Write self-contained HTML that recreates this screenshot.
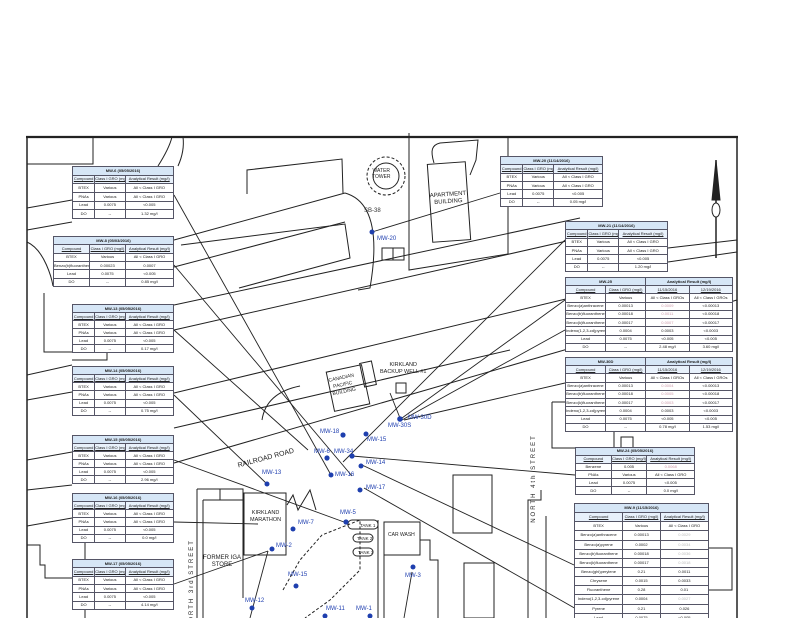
<!DOCTYPE html>
<html><head><meta charset="utf-8"><style>
html,body{margin:0;padding:0;background:#fff;}
#w{position:relative;width:800px;height:618px;overflow:hidden;background:#fff;font-family:"Liberation Sans",sans-serif;}
svg{position:absolute;left:0;top:0;}
table.t{position:absolute;border-collapse:collapse;background:#fff;font-size:4px;line-height:4px;border:1.2px solid #223;table-layout:fixed;}
table.t td{border:0.6px solid #556;text-align:center;padding:0;color:#222;white-space:nowrap;overflow:hidden;}
table.t tr.ti td{background:#d6e6f6;font-weight:bold;}
table.t tr.h td{background:#e8f1fb;text-decoration:underline;}
.lb{position:absolute;font-size:6px;color:#2140b0;white-space:nowrap;}
.bl{position:absolute;font-size:6px;color:#222;white-space:nowrap;text-align:center;line-height:7px;}
</style></head><body><div id="w">
<svg width="800" height="618" viewBox="0 0 800 618">
<g fill="none" stroke="#222" stroke-width="1">
<!-- border -->
<line x1="26" y1="137" x2="738" y2="137" stroke-width="2.2"/>
<line x1="27" y1="137" x2="27" y2="618" stroke-width="1.5"/>
<line x1="737" y1="137" x2="737" y2="618" stroke-width="1.5"/>
<!-- top-left block -->
<polyline points="27,164 93,164 93,137"/>
<path d="M158,166 C165,155 170,145 172,137"/><path d="M178,166 C183,155 184,145 183,137"/>
<!-- road lines -->
<line x1="27" y1="208" x2="72" y2="200"/>
<line x1="27" y1="230" x2="72" y2="222"/>
<line x1="174" y1="240" x2="345" y2="193"/>
<line x1="174" y1="267" x2="345" y2="222"/>
<polyline points="247,194 247,170 342,159 343,193"/>
<polyline points="181,245 345,224 350,258 239,288"/>
<path d="M345,193 C370,200 380,230 370,288 L358,290"/>
<line x1="174" y1="305" x2="580" y2="218"/>
<line x1="174" y1="330" x2="580" y2="238"/>
<line x1="27" y1="375" x2="72" y2="365"/>
<line x1="27" y1="400" x2="72" y2="392"/>
<line x1="174" y1="393" x2="570" y2="298"/>
<line x1="174" y1="428" x2="510" y2="350"/>
<line x1="27" y1="460" x2="72" y2="452"/>
<line x1="27" y1="490" x2="72" y2="485"/>
<line x1="27" y1="526" x2="72" y2="518"/>
<line x1="174" y1="463" x2="737" y2="300"/>
<line x1="668" y1="248" x2="737" y2="240"/>
<line x1="668" y1="262" x2="737" y2="252"/>
<!-- left side outlines -->
<path d="M27,242 C45,250 52,280 53,286"/>
<polyline points="44,293 44,352 72,352"/>
<polyline points="70,286 70,280 95,278 96,286"/>
<polyline points="107,353 107,360 72,360"/>
<polyline points="27,545 40,545 40,565 45,565 45,578 72,578"/>
<polyline points="85,543 85,560"/><polyline points="85,610 85,618"/>
<!-- apartment / water tower -->
<circle cx="386" cy="176" r="19" stroke-dasharray="3,2"/><circle cx="386" cy="176" r="13"/>
<polyline points="409,133 409,270 508,254 508,137"/>
<rect x="430" y="163" width="38" height="78" transform="rotate(-4 449 202)"/>
<path d="M434,163 C430,150 432,145 440,143 L478,140 L476,160 L470,175"/>
<rect x="382" y="248" width="22" height="12"/><line x1="393" y1="248" x2="393" y2="260"/>
<!-- canadian pacific building -->
<rect x="330" y="368" width="36" height="40" transform="rotate(-12 348 388)"/>
<rect x="362" y="362" width="12" height="24" transform="rotate(-12 368 374)"/>
<rect x="396" y="383" width="10" height="10"/>
<path d="M262,420 C265,400 280,390 300,386"/>
<!-- kirkland area -->
<polyline points="197,489 197,618"/><polyline points="203,500 203,618"/>
<polyline points="197,489 243,489 243,500"/><line x1="220" y1="489" x2="220" y2="500"/>
<polyline points="203,500 243,500 243,598"/>
<rect x="244" y="493" width="42" height="62"/>
<polyline points="287,505 293,495 298,510 310,490 316,510"/>
<path d="M283,590 L300,560 L322,535 L360,520 L360,570 L330,600 L305,618" stroke-dasharray="3,2"/>
<rect x="348" y="520" width="30" height="9" rx="4"/><rect x="353" y="534" width="20" height="8" rx="4"/><rect x="353" y="548" width="20" height="8" rx="4"/>
<line x1="378" y1="520" x2="378" y2="618"/>
<rect x="384" y="522" width="36" height="33"/><polyline points="384,555 384,618"/>
<polyline points="420,540 430,540 430,560 438,560 438,618"/>
<rect x="453" y="475" width="39" height="58"/>
<rect x="464" y="563" width="30" height="55"/>
<polyline points="546,516 546,618"/><polyline points="541,490 541,500 528,500 528,618"/>
<polyline points="709,548 732,548 732,590 709,590"/>
<rect x="621" y="437" width="12" height="20"/>
<polyline points="552,402 552,448 575,448"/>
<polyline points="565,402 552,402"/>
<polyline points="614,432 614,447"/>
<!-- north arrow -->
<line x1="716" y1="160" x2="716" y2="258" stroke-width="1.5"/>
<polygon points="716,160 712,200 720,200" fill="#222"/>
<ellipse cx="716" cy="210" rx="4" ry="7" fill="#fff"/>
</g>
<!-- leader lines -->
<g stroke="#222" stroke-width="0.9" fill="none">
<line x1="174" y1="195" x2="331" y2="475"/>
<line x1="174" y1="265" x2="352" y2="476"/>
<line x1="174" y1="330" x2="308" y2="450"/>
<line x1="174" y1="395" x2="267" y2="484"/>
<line x1="174" y1="460" x2="344" y2="522"/>
<line x1="174" y1="522" x2="258" y2="524"/>
<line x1="174" y1="584" x2="268" y2="551"/>
<line x1="500" y1="193" x2="372" y2="232"/>
<line x1="565" y1="240" x2="343" y2="462"/>
<line x1="565" y1="300" x2="402" y2="418"/>
<line x1="565" y1="330" x2="402" y2="420"/>
<line x1="565" y1="383" x2="404" y2="420"/>
<line x1="575" y1="475" x2="352" y2="456"/>
<line x1="574" y1="565" x2="362" y2="465"/>
<line x1="592" y1="618" x2="364" y2="488"/>
<line x1="400" y1="418" x2="390" y2="393"/>
<line x1="404" y1="618" x2="412" y2="572"/>
<line x1="250" y1="618" x2="268" y2="551"/>
</g>
<!-- wells -->
<g fill="#1e3fae">
<circle cx="372" cy="232" r="2.5"/><circle cx="343" cy="435" r="2.6"/><circle cx="400" cy="419" r="2.8"/><circle cx="366" cy="434" r="2.5"/>
<circle cx="327" cy="458" r="2.6"/><circle cx="352" cy="456" r="2.6"/><circle cx="331" cy="475" r="2.5"/><circle cx="361" cy="466" r="2.5"/>
<circle cx="267" cy="484" r="2.5"/><circle cx="360" cy="490" r="2.5"/><circle cx="346" cy="522" r="2.6"/><circle cx="293" cy="529" r="2.5"/>
<circle cx="272" cy="549" r="2.5"/><circle cx="296" cy="586" r="2.5"/><circle cx="413" cy="567" r="2.5"/><circle cx="252" cy="608" r="2.5"/>
<circle cx="370" cy="616" r="2.5"/><circle cx="325" cy="616" r="2.5"/>
</g>
</svg>
<div class="lb" style="left:364px;top:208px;color:#333">SB-38</div>
<div class="lb" style="left:377px;top:236px">MW-20</div>
<div class="lb" style="left:408px;top:415px">MW-30D</div>
<div class="lb" style="left:388px;top:423px">MW-30S</div>
<div class="lb" style="left:320px;top:429px">MW-18</div>
<div class="lb" style="left:367px;top:437px">MW-15</div>
<div class="lb" style="left:314px;top:449px">MW-6</div>
<div class="lb" style="left:334px;top:449px">MW-34</div>
<div class="lb" style="left:366px;top:460px">MW-14</div>
<div class="lb" style="left:335px;top:472px">MW-16</div>
<div class="lb" style="left:262px;top:470px">MW-13</div>
<div class="lb" style="left:366px;top:485px">MW-17</div>
<div class="lb" style="left:340px;top:510px">MW-5</div>
<div class="lb" style="left:298px;top:520px">MW-7</div>
<div class="lb" style="left:276px;top:543px">MW-2</div>
<div class="lb" style="left:288px;top:572px">MW-15</div>
<div class="lb" style="left:405px;top:573px">MW-3</div>
<div class="lb" style="left:245px;top:598px">MW-12</div>
<div class="lb" style="left:326px;top:606px">MW-11</div>
<div class="lb" style="left:356px;top:606px">MW-1</div>
<div class="bl" style="left:372px;top:168px;font-size:5px;line-height:6px">WATER<br>TOWER</div>
<div class="bl" style="left:430px;top:192px;transform:rotate(-4deg)">APARTMENT<br>BUILDING</div>
<div class="bl" style="left:330px;top:375px;transform:rotate(-12deg);font-size:5px">CANADIAN<br>PACIFIC<br>BUILDING</div>
<div class="bl" style="left:380px;top:362px;font-size:5.5px">KIRKLAND<br>BACKUP WELL #1</div>
<div class="bl" style="left:237px;top:455px;transform:rotate(-15deg);font-size:7px">RAILROAD ROAD</div>
<div class="bl" style="left:250px;top:510px;font-size:5.5px">KIRKLAND<br>MARATHON</div>
<div class="bl" style="left:203px;top:555px;font-size:6px">FORMER IGA<br>STORE</div>
<div class="bl" style="left:360px;top:522px;font-size:4.5px">TANK 1</div>
<div class="bl" style="left:357px;top:535px;font-size:4.5px">TANK 2</div>
<div class="bl" style="left:358px;top:549px;font-size:4.5px">TANK 3</div>
<div class="bl" style="left:388px;top:532px;font-size:5px">CAR WASH</div>
<div class="bl" style="left:148px;top:580px;transform:rotate(-90deg);font-size:6px;letter-spacing:2px">NORTH 3rd STREET</div>
<div class="bl" style="left:490px;top:475px;transform:rotate(-90deg);font-size:6px;letter-spacing:2px">NORTH 4th STREET</div>

<table class="t" style="left:72px;top:166px;width:102px;height:53px"><col style="width:22%"><col style="width:30%"><col><tr class="ti"><td colspan="3">MW-6 (05/05/2016)</td></tr><tr class="h"><td>Compound</td><td>Class I GRO (mg/l)</td><td>Analytical Result (mg/l)</td></tr><tr><td>BTEX</td><td>Various</td><td>All &lt; Class I GRO</td></tr><tr><td>PNAs</td><td>Various</td><td>All &lt; Class I GRO</td></tr><tr><td>Lead</td><td>0.0075</td><td>&lt;0.005</td></tr><tr><td>DO</td><td>--</td><td>1.32 mg/l</td></tr></table>
<table class="t" style="left:53px;top:236px;width:121px;height:51px"><col style="width:30%"><col style="width:30%"><col><tr class="ti"><td colspan="3">MW-8 (05/03/2016)</td></tr><tr class="h"><td>Compound</td><td>Class I GRO (mg/l)</td><td>Analytical Result (mg/l)</td></tr><tr><td>BTEX</td><td>Various</td><td>All &lt; Class I GRO</td></tr><tr><td>Benzo(b)fluoranthene</td><td>0.00023</td><td>0.0007</td></tr><tr><td>Lead</td><td>0.0075</td><td>&lt;0.005</td></tr><tr><td>DO</td><td>--</td><td>0.85 mg/l</td></tr></table>
<table class="t" style="left:72px;top:304px;width:102px;height:49px"><col style="width:22%"><col style="width:30%"><col><tr class="ti"><td colspan="3">MW-13 (05/05/2016)</td></tr><tr class="h"><td>Compound</td><td>Class I GRO (mg/l)</td><td>Analytical Result (mg/l)</td></tr><tr><td>BTEX</td><td>Various</td><td>All &lt; Class I GRO</td></tr><tr><td>PNAs</td><td>Various</td><td>All &lt; Class I GRO</td></tr><tr><td>Lead</td><td>0.0075</td><td>&lt;0.005</td></tr><tr><td>DO</td><td>--</td><td>0.17 mg/l</td></tr></table>
<table class="t" style="left:72px;top:366px;width:102px;height:50px"><col style="width:22%"><col style="width:30%"><col><tr class="ti"><td colspan="3">MW-14 (05/05/2016)</td></tr><tr class="h"><td>Compound</td><td>Class I GRO (mg/l)</td><td>Analytical Result (mg/l)</td></tr><tr><td>BTEX</td><td>Various</td><td>All &lt; Class I GRO</td></tr><tr><td>PNAs</td><td>Various</td><td>All &lt; Class I GRO</td></tr><tr><td>Lead</td><td>0.0075</td><td>&lt;0.005</td></tr><tr><td>DO</td><td>--</td><td>0.75 mg/l</td></tr></table>
<table class="t" style="left:72px;top:435px;width:102px;height:49px"><col style="width:22%"><col style="width:30%"><col><tr class="ti"><td colspan="3">MW-15 (05/05/2016)</td></tr><tr class="h"><td>Compound</td><td>Class I GRO (mg/l)</td><td>Analytical Result (mg/l)</td></tr><tr><td>BTEX</td><td>Various</td><td>All &lt; Class I GRO</td></tr><tr><td>PNAs</td><td>Various</td><td>All &lt; Class I GRO</td></tr><tr><td>Lead</td><td>0.0075</td><td>&lt;0.005</td></tr><tr><td>DO</td><td>--</td><td>2.96 mg/l</td></tr></table>
<table class="t" style="left:72px;top:493px;width:102px;height:50px"><col style="width:22%"><col style="width:30%"><col><tr class="ti"><td colspan="3">MW-16 (05/05/2016)</td></tr><tr class="h"><td>Compound</td><td>Class I GRO (mg/l)</td><td>Analytical Result (mg/l)</td></tr><tr><td>BTEX</td><td>Various</td><td>All &lt; Class I GRO</td></tr><tr><td>PNAs</td><td>Various</td><td>All &lt; Class I GRO</td></tr><tr><td>Lead</td><td>0.0075</td><td>&lt;0.005</td></tr><tr><td>DO</td><td>--</td><td>0.0 mg/l</td></tr></table>
<table class="t" style="left:72px;top:559px;width:102px;height:51px"><col style="width:22%"><col style="width:30%"><col><tr class="ti"><td colspan="3">MW-17 (05/05/2016)</td></tr><tr class="h"><td>Compound</td><td>Class I GRO (mg/l)</td><td>Analytical Result (mg/l)</td></tr><tr><td>BTEX</td><td>Various</td><td>All &lt; Class I GRO</td></tr><tr><td>PNAs</td><td>Various</td><td>All &lt; Class I GRO</td></tr><tr><td>Lead</td><td>0.0075</td><td>&lt;0.005</td></tr><tr><td>DO</td><td>--</td><td>4.14 mg/l</td></tr></table>
<table class="t" style="left:500px;top:156px;width:103px;height:51px"><col style="width:22%"><col style="width:30%"><col><tr class="ti"><td colspan="3">MW-20 (11/14/2016)</td></tr><tr class="h"><td>Compound</td><td>Class I GRO (mg/l)</td><td>Analytical Result (mg/l)</td></tr><tr><td>BTEX</td><td>Various</td><td>All &lt; Class I GRO</td></tr><tr><td>PNAs</td><td>Various</td><td>All &lt; Class I GRO</td></tr><tr><td>Lead</td><td>0.0075</td><td>&lt;0.005</td></tr><tr><td>DO</td><td>--</td><td>0.05 mg/l</td></tr></table>
<table class="t" style="left:565px;top:221px;width:103px;height:51px"><col style="width:22%"><col style="width:30%"><col><tr class="ti"><td colspan="3">MW-21 (11/14/2016)</td></tr><tr class="h"><td>Compound</td><td>Class I GRO (mg/l)</td><td>Analytical Result (mg/l)</td></tr><tr><td>BTEX</td><td>Various</td><td>All &lt; Class I GRO</td></tr><tr><td>PNAs</td><td>Various</td><td>All &lt; Class I GRO</td></tr><tr><td>Lead</td><td>0.0075</td><td>&lt;0.005</td></tr><tr><td>DO</td><td>--</td><td>1.20 mg/l</td></tr></table>
<table class="t" style="left:565px;top:277px;width:168px;height:75px"><col style="width:24%"><col style="width:24%"><col><col><tr class="ti"><td colspan="2">MW-25</td><td colspan="2">Analytical Result (mg/l)</td></tr><tr class="h"><td>Compound</td><td>Class I GRO (mg/l)</td><td>11/15/2016</td><td>12/19/2016</td></tr><tr><td>BTEX</td><td>Various</td><td>All &lt; Class I GROs</td><td>All &lt; Class I GROs</td></tr><tr><td>Benzo(a)anthracene</td><td>0.00013</td><td style="color:#c9a">0.0009</td><td>&lt;0.00013</td></tr><tr><td>Benzo(b)fluoranthene</td><td>0.00018</td><td style="color:#c9a">0.0011</td><td>&lt;0.00018</td></tr><tr><td>Benzo(k)fluoranthene</td><td>0.00017</td><td style="color:#c9a">0.0007</td><td>&lt;0.00017</td></tr><tr><td>Indeno(1,2,3-cd)pyrene</td><td>0.0004</td><td>0.0003</td><td>&lt;0.0003</td></tr><tr><td>Lead</td><td>0.0075</td><td>&lt;0.005</td><td>&lt;0.005</td></tr><tr><td>DO</td><td>--</td><td>2.48 mg/l</td><td>3.60 mg/l</td></tr></table>
<table class="t" style="left:565px;top:357px;width:168px;height:75px"><col style="width:24%"><col style="width:24%"><col><col><tr class="ti"><td colspan="2">MW-30D</td><td colspan="2">Analytical Result (mg/l)</td></tr><tr class="h"><td>Compound</td><td>Class I GRO (mg/l)</td><td>11/15/2016</td><td>12/19/2016</td></tr><tr><td>BTEX</td><td>Various</td><td>All &lt; Class I GROs</td><td>All &lt; Class I GROs</td></tr><tr><td>Benzo(a)anthracene</td><td>0.00013</td><td style="color:#c9a">0.0004</td><td>&lt;0.00013</td></tr><tr><td>Benzo(b)fluoranthene</td><td>0.00018</td><td style="color:#c9a">0.0005</td><td>&lt;0.00018</td></tr><tr><td>Benzo(k)fluoranthene</td><td>0.00017</td><td style="color:#c9a">0.0003</td><td>&lt;0.00017</td></tr><tr><td>Indeno(1,2,3-cd)pyrene</td><td>0.0004</td><td>0.0003</td><td>&lt;0.0003</td></tr><tr><td>Lead</td><td>0.0075</td><td>&lt;0.005</td><td>&lt;0.005</td></tr><tr><td>DO</td><td>--</td><td>0.78 mg/l</td><td>1.53 mg/l</td></tr></table>
<table class="t" style="left:575px;top:447px;width:120px;height:48px"><col style="width:30%"><col style="width:30%"><col><tr class="ti"><td colspan="3">MW-24 (05/05/2016)</td></tr><tr class="h"><td>Compound</td><td>Class I GRO (mg/l)</td><td>Analytical Result (mg/l)</td></tr><tr><td>Benzene</td><td>0.005</td><td style="color:#c9a">0.0068</td></tr><tr><td>PNAs</td><td>Various</td><td>All &lt; Class I GRO</td></tr><tr><td>Lead</td><td>0.0075</td><td>&lt;0.005</td></tr><tr><td>DO</td><td>--</td><td>0.0 mg/l</td></tr></table>
<table class="t" style="left:574px;top:503px;width:135px;height:120px"><col style="width:36%"><col style="width:28%"><col><tr class="ti"><td colspan="3">MW-9 (11/15/2016)</td></tr><tr class="h"><td>Compound</td><td>Class I GRO (mg/l)</td><td>Analytical Result (mg/l)</td></tr><tr><td>BTEX</td><td>Various</td><td>All &lt; Class I GRO</td></tr><tr><td>Benzo(a)anthracene</td><td>0.00013</td><td style="color:#bbb">0.0029</td></tr><tr><td>Benzo(a)pyrene</td><td>0.0002</td><td style="color:#bbb">0.0034</td></tr><tr><td>Benzo(b)fluoranthene</td><td>0.00018</td><td style="color:#bbb">0.0036</td></tr><tr><td>Benzo(k)fluoranthene</td><td>0.00017</td><td style="color:#bbb">0.0018</td></tr><tr><td>Benzo(ghi)perylene</td><td>0.21</td><td>0.0011</td></tr><tr><td>Chrysene</td><td>0.0015</td><td>0.0033</td></tr><tr><td>Fluoranthene</td><td>0.28</td><td>0.01</td></tr><tr><td>Indeno(1,2,3-cd)pyrene</td><td>0.0004</td><td style="color:#bbb">0.0027</td></tr><tr><td>Pyrene</td><td>0.21</td><td>0.026</td></tr><tr><td>Lead</td><td>0.0075</td><td>&lt;0.005</td></tr></table>
</div></body></html>
